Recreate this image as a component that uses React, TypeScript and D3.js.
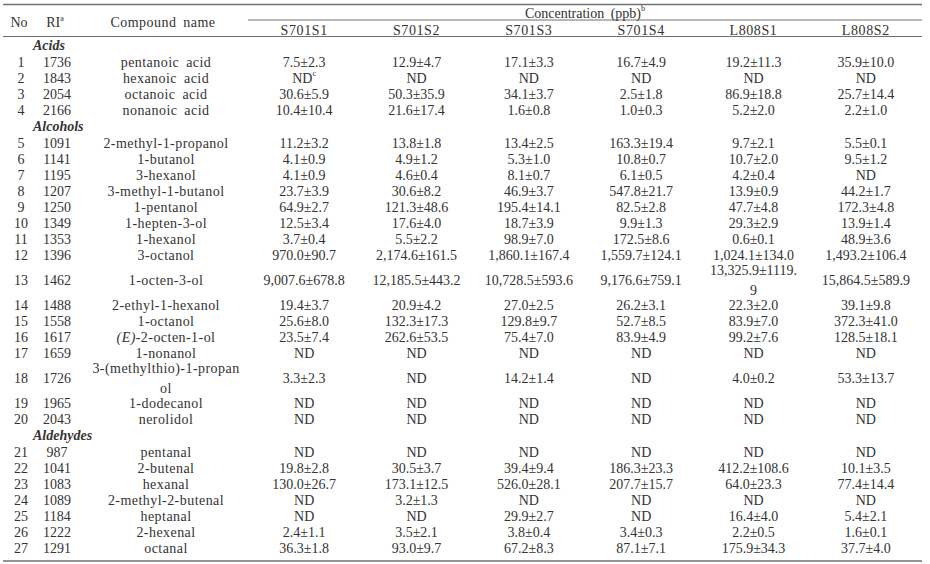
import React from "react";
import * as d3 from "d3";

const columns = ["S701S1", "S701S2", "S701S3", "S701S4", "L808S1", "L808S2"];
const groupNames = ["Acids", "Alcohols", "Aldehydes"];
const groupOfCompound = [0, 0, 0, 0, 1, 1, 1, 1, 1, 1, 1, 1, 1, 1, 1, 1, 1, 1, 1, 1, 2, 2, 2, 2, 2, 2, 2];
const riValues = [1736, 1843, 2054, 2166, 1091, 1141, 1195, 1207, 1250, 1349, 1353, 1396, 1462, 1488, 1558, 1617, 1659, 1726, 1965, 2043, 987, 1041, 1083, 1089, 1184, 1222, 1291];
const compoundNames = [
  "pentanoic acid", "hexanoic acid", "octanoic acid", "nonanoic acid",
  "2-methyl-1-propanol", "1-butanol", "3-hexanol", "3-methyl-1-butanol", "1-pentanol",
  "1-hepten-3-ol", "1-hexanol", "3-octanol", "1-octen-3-ol", "2-ethyl-1-hexanol", "1-octanol",
  "_(E)_-2-octen-1-ol", "1-nonanol", "3-(methylthio)-1-propan\nol", "1-dodecanol", "nerolidol",
  "pentanal", "2-butenal", "hexanal", "2-methyl-2-butenal", "heptanal", "2-hexenal", "octanal",
];
const s701s1 = ["7.5±2.3", "ND^c", "30.6±5.9", "10.4±10.4", "11.2±3.2", "4.1±0.9", "4.1±0.9", "23.7±3.9", "64.9±2.7", "12.5±3.4", "3.7±0.4", "970.0±90.7", "9,007.6±678.8", "19.4±3.7", "25.6±8.0", "23.5±7.4", "ND", "3.3±2.3", "ND", "ND", "ND", "19.8±2.8", "130.0±26.7", "ND", "ND", "2.4±1.1", "36.3±1.8"];
const s701s2 = ["12.9±4.7", "ND", "50.3±35.9", "21.6±17.4", "13.8±1.8", "4.9±1.2", "4.6±0.4", "30.6±8.2", "121.3±48.6", "17.6±4.0", "5.5±2.2", "2,174.6±161.5", "12,185.5±443.2", "20.9±4.2", "132.3±17.3", "262.6±53.5", "ND", "ND", "ND", "ND", "ND", "30.5±3.7", "173.1±12.5", "3.2±1.3", "ND", "3.5±2.1", "93.0±9.7"];
const s701s3 = ["17.1±3.3", "ND", "34.1±3.7", "1.6±0.8", "13.4±2.5", "5.3±1.0", "8.1±0.7", "46.9±3.7", "195.4±14.1", "18.7±3.9", "98.9±7.0", "1,860.1±167.4", "10,728.5±593.6", "27.0±2.5", "129.8±9.7", "75.4±7.0", "ND", "14.2±1.4", "ND", "ND", "ND", "39.4±9.4", "526.0±28.1", "ND", "29.9±2.7", "3.8±0.4", "67.2±8.3"];
const s701s4 = ["16.7±4.9", "ND", "2.5±1.8", "1.0±0.3", "163.3±19.4", "10.8±0.7", "6.1±0.5", "547.8±21.7", "82.5±2.8", "9.9±1.3", "172.5±8.6", "1,559.7±124.1", "9,176.6±759.1", "26.2±3.1", "52.7±8.5", "83.9±4.9", "ND", "ND", "ND", "ND", "ND", "186.3±23.3", "207.7±15.7", "ND", "ND", "3.4±0.3", "87.1±7.1"];
const l808s1 = ["19.2±11.3", "ND", "86.9±18.8", "5.2±2.0", "9.7±2.1", "10.7±2.0", "4.2±0.4", "13.9±0.9", "47.7±4.8", "29.3±2.9", "0.6±0.1", "1,024.1±134.0", "13,325.9±1119.\n9", "22.3±2.0", "83.9±7.0", "99.2±7.6", "ND", "4.0±0.2", "ND", "ND", "ND", "412.2±108.6", "64.0±23.3", "ND", "16.4±4.0", "2.2±0.5", "175.9±34.3"];
const l808s2 = ["35.9±10.0", "ND", "25.7±14.4", "2.2±1.0", "5.5±0.1", "9.5±1.2", "ND", "44.2±1.7", "172.3±4.8", "13.9±1.4", "48.9±3.6", "1,493.2±106.4", "15,864.5±589.9", "39.1±9.8", "372.3±41.0", "128.5±18.1", "ND", "53.3±13.7", "ND", "ND", "ND", "10.1±3.5", "77.4±14.4", "ND", "5.4±2.1", "1.6±0.1", "37.7±4.0"];
const headerTitle = "Concentration (ppb)^b";
const headerNo = "No";
const headerRI = "RI^a";
const headerName = "Compound name";

const W = 930;
const H = 564;
const FONT = "'Liberation Serif', 'DejaVu Serif', serif";
const FS = 14;
const COLOR = "#333";
const LINE = "#707070";

const colValues = [s701s1, s701s2, s701s3, s701s4, l808s1, l808s2];

function Rich({ text, x, y, size = FS, anchor = "middle" as any, style = {} as any }) {
  // supports _italic_ and ^superscript
  const parts: any[] = [];
  let rest = text;
  const supIdx = rest.indexOf("^");
  let sup = "";
  if (supIdx >= 0) {
    sup = rest.slice(supIdx + 1);
    rest = rest.slice(0, supIdx);
  }
  const segs = rest.split("_");
  segs.forEach((s, i) => {
    if (s.length === 0) return;
    parts.push(
      <tspan key={"s" + i} fontStyle={i % 2 === 1 ? "italic" : undefined}>{s}</tspan>
    );
  });
  if (sup) {
    parts.push(
      <tspan key="sup" fontSize={size * 0.58} dy={-size * 0.32}>{sup}</tspan>
    );
  }
  return (
    <text x={x} y={y} textAnchor={anchor} dominantBaseline="central" fontSize={size} fontFamily={FONT} fill={COLOR} style={style}>
      {parts}
    </text>
  );
}

function Cell({ text, x, y, style = {} as any }) {
  const lines = text.split("\n");
  const gap = 20;
  const y0 = y - ((lines.length - 1) * gap) / 2;
  return (
    <g>
      {lines.map((l, i) => (
        <Rich key={i} text={l} x={x} y={y0 + i * gap} style={style} />
      ))}
    </g>
  );
}

export default function App() {
  const x = d3.scaleBand<string>().domain(columns).range([248, 922]);
  const cx = (c: string) => (x(c) as number) + x.bandwidth() / 2;

  // build row layout
  const rowH = 16;
  const groupH = 17;
  const tallH = 34;
  type Item = { kind: "group" | "row"; idx: number; y: number; h: number };
  const items: Item[] = [];
  let cursor = 36.5;
  let lastGroup = -1;
  compoundNames.forEach((name, i) => {
    const g = groupOfCompound[i];
    if (g !== lastGroup) {
      items.push({ kind: "group", idx: g, y: cursor + groupH / 2, h: groupH });
      cursor += groupH;
      lastGroup = g;
    }
    const tall = name.includes("\n") || colValues.some((c) => c[i].includes("\n"));
    const h = tall ? tallH : rowH;
    items.push({ kind: "row", idx: i, y: cursor + h / 2, h });
    cursor += h;
  });
  const bottom = cursor + 5.5;

  const xNo = 21;
  const xRI = 57;
  const xName = 166;
  const nameStyle = { wordSpacing: "3px", letterSpacing: "0.45px" };

  return (
    <svg width={W} height={H} style={{ position: "absolute", left: 0, top: 0, background: "#fff" }}>
      <rect x={0} y={0} width={W} height={H} fill="#fff" />
      {/* rules */}
      <line x1={3} x2={922} y1={4.5} y2={4.5} stroke={LINE} strokeWidth={1.6} />
      <line x1={248} x2={922} y1={20} y2={20} stroke={LINE} strokeWidth={1} />
      <line x1={3} x2={922} y1={36.5} y2={36.5} stroke={LINE} strokeWidth={1} />
      <line x1={3} x2={922} y1={bottom} y2={bottom} stroke={LINE} strokeWidth={1.6} />

      {/* header */}
      <Rich text={headerNo} x={19} y={22} />
      <Rich text={headerRI} x={xRI - 2} y={22} />
      <Rich text={headerName} x={163} y={22} style={nameStyle} />
      <Rich text={headerTitle} x={(248 + 922) / 2} y={12.5} style={{ wordSpacing: "3px" }} />
      {columns.map((c) => (
        <Rich key={c} text={c} x={cx(c)} y={29.5} style={{ letterSpacing: "0.6px" }} />
      ))}

      {items.map((it, k) => {
        if (it.kind === "group") {
          return (
            <text key={"g" + k} x={33} y={it.y} dominantBaseline="central" fontSize={FS} fontFamily={FONT} fontStyle="italic" fontWeight="bold" fill={COLOR}>
              {groupNames[it.idx]}
            </text>
          );
        }
        const i = it.idx;
        return (
          <g key={"r" + k}>
            <Rich text={String(i + 1)} x={xNo} y={it.y} />
            <Rich text={String(riValues[i])} x={xRI} y={it.y} />
            <Cell text={compoundNames[i]} x={xName} y={it.y} style={nameStyle} />
            {columns.map((c, j) => (
              <Cell key={c} text={colValues[j][i]} x={cx(c)} y={it.y} />
            ))}
          </g>
        );
      })}
    </svg>
  );
}
